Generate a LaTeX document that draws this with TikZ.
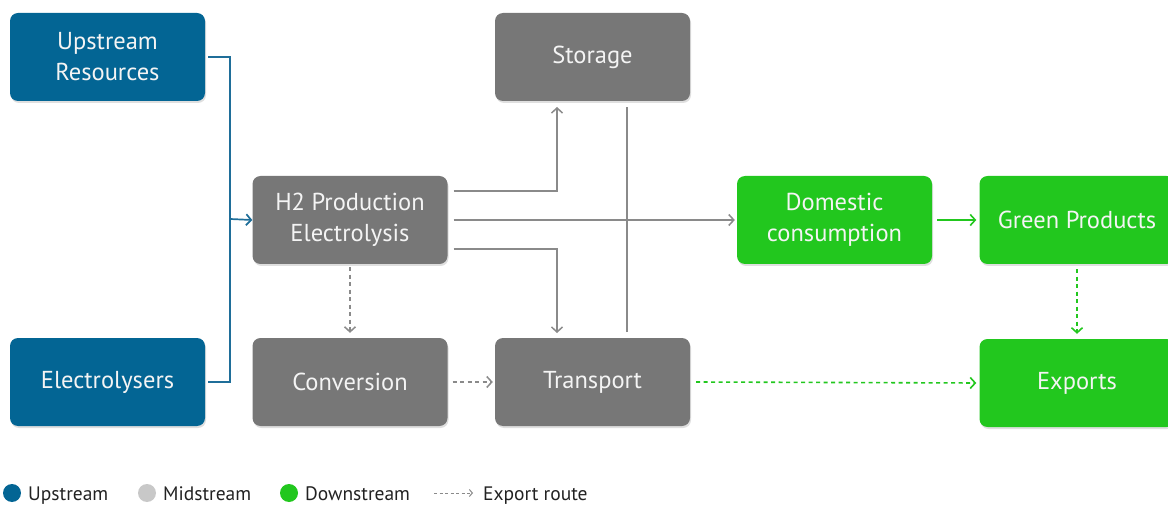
\documentclass[tikz,border=0pt]{standalone}
\usepackage{fontspec}
\setmainfont{PT Sans}
\usetikzlibrary{arrows.meta,shadows}

\definecolor{upblue}{HTML}{036594}
\definecolor{midgray}{HTML}{777777}
\definecolor{legendgray}{HTML}{C8C8C8}
\definecolor{downgreen}{HTML}{22C71E}
\definecolor{linegray}{HTML}{8A8A8A}
\definecolor{lineblue}{HTML}{1F6E99}
\definecolor{boxtext}{HTML}{F4F4F4}
\definecolor{legendtext}{HTML}{222222}

\tikzset{
  stagebox/.style={rectangle, rounded corners=8pt, minimum width=195pt,
    minimum height=88pt, inner sep=0pt, align=center, text=boxtext,
    font=\fontsize{24.5}{31}\selectfont,
    drop shadow={shadow xshift=1pt, shadow yshift=-2pt, opacity=0.25}},
  upbox/.style={stagebox, fill=upblue},
  midbox/.style={stagebox, fill=midgray},
  downbox/.style={stagebox, fill=downgreen},
  tip/.style={-{Straight Barb[length=5pt,width=11pt]}},
  flow/.style={draw=linegray, line width=1.5pt},
  upflow/.style={draw=lineblue, line width=1.7pt},
  exportflow/.style={draw=linegray, line width=1.5pt, dash pattern=on 4pt off 3.5pt},
  greenflow/.style={draw=downgreen, line width=1.6pt},
  greenexport/.style={draw=downgreen, line width=1.6pt, dash pattern=on 4pt off 3.5pt},
  legenddot/.style={circle, minimum size=18pt, inner sep=0pt},
  legendlabel/.style={anchor=base west, inner sep=0pt, text=legendtext,
    font=\fontsize{19.5}{22}\selectfont},
}

\begin{document}
\begin{tikzpicture}[x=1pt, y=-1pt]
  \useasboundingbox (0,0) rectangle (1168,505);
  \clip (0,0) rectangle (1168,505);

  % stages
  \node[upbox]   (upres)    at (107.5,57)  {Upstream\\Resources};
  \node[upbox]   (elec)     at (107.5,382) {Electrolysers};
  \node[midbox]  (prod)     at (350,220) {H2 Production\\Electrolysis};
  \node[midbox]  (conv)     at (350,382) {Conversion};
  \node[midbox]  (storage)  at (592.5,57)  {Storage};
  \node[midbox]  (trans)    at (592.5,382) {Transport};
  \node[downbox] (domestic) at (834.5,220) {Domestic\\consumption};
  \node[downbox] (green)    at (1077,220) {Green Products};
  \node[downbox] (exports)  at (1077,383) {Exports};

  % upstream inputs joined into production
  \coordinate (join) at (230,219);
  \draw[upflow] ([xshift=3pt]upres.east) -| (join);
  \draw[upflow] ([xshift=3pt]elec.east) -| (join);
  \draw[upflow, tip] (join) -- (prod.west);

  % production outputs
  \coordinate (storein) at (557,101);
  \coordinate (transin) at (557,338);
  \draw[flow, tip] ([xshift=6pt, yshift=29pt]prod.east) -| ([yshift=-6pt]storein);
  \draw[flow, tip] ([xshift=6pt]prod.east) -- ([xshift=-2pt]domestic.west);
  \draw[flow, tip] ([xshift=6pt, yshift=-29pt]prod.east) -| ([yshift=5pt]transin);

  % transport to storage link
  \coordinate (linktop) at (627,107);
  \coordinate (linkbot) at (627,332);
  \draw[flow] (linkbot) -- (linktop);

  % export route through conversion and transport
  \draw[exportflow, tip] ([yshift=-3pt]prod.south) -- ([yshift=5pt]conv.north);
  \draw[exportflow, tip] ([xshift=5pt]conv.east) -- ([xshift=-2pt]trans.west);
  \draw[greenexport, tip] ([xshift=6pt]trans.east) -- ([xshift=-3pt]exports.west);

  % downstream
  \draw[greenflow, tip] ([xshift=5pt]domestic.east) -- ([xshift=-3pt]green.west);
  \draw[greenexport, tip] ([yshift=-5pt]green.south) -- ([yshift=5pt]exports.north);

  % legend
  \node[legenddot, fill=upblue]     (dotup)   at (12,493)  {};
  \node[legendlabel] (lblup)   at (28,500)  {Upstream};
  \node[legenddot, fill=legendgray] (dotmid)  at (147,493) {};
  \node[legendlabel] (lblmid)  at (163,500) {Midstream};
  \node[legenddot, fill=downgreen]  (dotdown) at (289,493) {};
  \node[legendlabel] (lbldown) at (305,500) {Downstream};
  \coordinate (keystart) at (434,493);
  \coordinate (keyend)   at (473,493);
  \draw[draw=linegray, line width=1pt, dash pattern=on 3pt off 2.5pt,
        -{Straight Barb[length=3pt,width=7pt]}] (keystart) -- (keyend);
  \node[legendlabel] (lblexport) at (483,500) {Export route};
\end{tikzpicture}
\end{document}
